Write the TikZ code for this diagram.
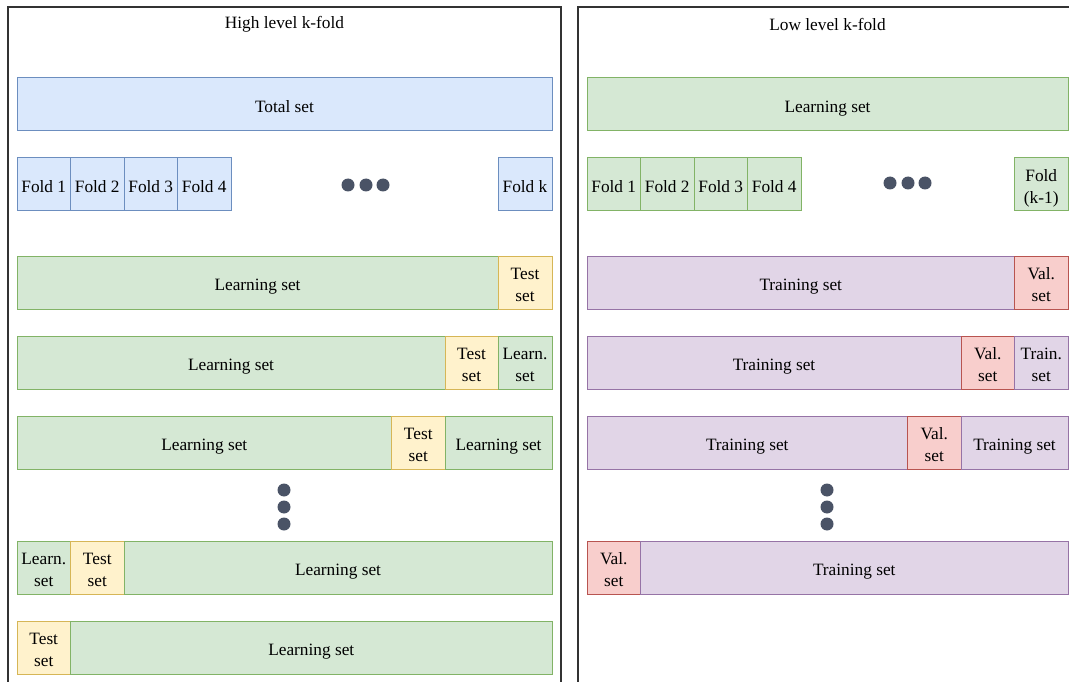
\documentclass[tikz,border=0pt]{standalone}
\usepackage{fontspec}
\setmainfont{Liberation Serif}
\definecolor{blueF}{HTML}{DAE8FC}\definecolor{blueD}{HTML}{6C8EBF}
\definecolor{greenF}{HTML}{D5E8D4}\definecolor{greenD}{HTML}{82B366}
\definecolor{yellowF}{HTML}{FFF2CC}\definecolor{yellowD}{HTML}{D6B656}
\definecolor{redF}{HTML}{F8CECC}\definecolor{redD}{HTML}{B85450}
\definecolor{purpleF}{HTML}{E1D5E7}\definecolor{purpleD}{HTML}{9673A6}
\definecolor{dotC}{HTML}{4A5366}
\definecolor{frameC}{HTML}{333333}
% cell text: centred lines, set slightly below the geometric centre
\newcommand\celltext[1]{\raisebox{-3.5pt}[\height][\depth]{\begin{tabular}{@{}c@{}}#1\end{tabular}}}
\tikzset{
  cell/.style={draw, line width=1pt, rectangle, inner sep=0pt, outer sep=0pt,
    minimum height=53pt, anchor=north west,
    font=\fontsize{17.3}{21.5}\selectfont},
  bluecell/.style={cell, fill=blueF, draw=blueD},
  greencell/.style={cell, fill=greenF, draw=greenD},
  yellowcell/.style={cell, fill=yellowF, draw=yellowD},
  redcell/.style={cell, fill=redF, draw=redD},
  purplecell/.style={cell, fill=purpleF, draw=purpleD},
  blob/.style={circle, fill=dotC, inner sep=0pt, minimum size=13pt},
  paneltitle/.style={font=\fontsize{17.3}{21}\selectfont},
  frame/.style={draw=frameC, line width=1.4pt}
}
\begin{document}
\begin{tikzpicture}[x=1pt, y=-1pt]
\useasboundingbox (0,0) rectangle (1069,682);
\begin{scope}
\clip (0,0) rectangle (1069,682);
% panel frames (open at the bottom / right edge)
\draw[frame] (8,700) -- (8,7) -- (561,7) -- (561,700);
\draw[frame] (578,700) -- (578,7) -- (1080,7);

% ---------------- high level k-fold ----------------
\node[paneltitle] (hTitle) at (284.5,24.5) {High level k-fold};
\node[bluecell, minimum width=535pt] (hTotal) at (17,78) {\celltext{Total set}};
\node[bluecell, minimum width=53.5pt] (hF1) at (17,158) {\celltext{Fold 1}};
\node[bluecell, minimum width=53.5pt] (hF2) at (70.5,158) {\celltext{Fold 2}};
\node[bluecell, minimum width=53.5pt] (hF3) at (124,158) {\celltext{Fold 3}};
\node[bluecell, minimum width=53.5pt] (hF4) at (177.5,158) {\celltext{Fold 4}};
\node[bluecell, minimum width=54pt] (hFk) at (498,158) {\celltext{Fold k}};
\node[blob] (hd1) at (348,185) {};
\node[blob] (hd2) at (366,185) {};
\node[blob] (hd3) at (383,185) {};

\node[greencell, minimum width=481pt] (h1L) at (17,256) {\celltext{Learning set}};
\node[yellowcell, minimum width=54pt] (h1T) at (498,256) {\celltext{Test\\set}};

\node[greencell, minimum width=428pt] (h2L) at (17,336) {\celltext{Learning set}};
\node[yellowcell, minimum width=53pt] (h2T) at (445,336) {\celltext{Test\\set}};
\node[greencell, minimum width=54pt] (h2R) at (498,336) {\celltext{Learn.\\set}};

\node[greencell, minimum width=374.5pt] (h3L) at (17,416) {\celltext{Learning set}};
\node[yellowcell, minimum width=53.5pt] (h3T) at (391.5,416) {\celltext{Test\\set}};
\node[greencell, minimum width=107pt] (h3R) at (445,416) {\celltext{Learning set}};

\node[blob] (hv1) at (284,490) {};
\node[blob] (hv2) at (284,507) {};
\node[blob] (hv3) at (284,524) {};

\node[greencell, minimum width=53.5pt] (h4L) at (17,541) {\celltext{Learn.\\set}};
\node[yellowcell, minimum width=53.5pt] (h4T) at (70.5,541) {\celltext{Test\\set}};
\node[greencell, minimum width=428pt] (h4R) at (124,541) {\celltext{Learning set}};

\node[yellowcell, minimum width=53.5pt] (h5T) at (17,621) {\celltext{Test\\set}};
\node[greencell, minimum width=481.5pt] (h5R) at (70.5,621) {\celltext{Learning set}};

% ---------------- low level k-fold ----------------
\node[paneltitle] (lTitle) at (827.5,24.5) {Low level k-fold};
\node[greencell, minimum width=481pt] (lTotal) at (587,78) {\celltext{Learning set}};
\node[greencell, minimum width=53.5pt] (lF1) at (587,158) {\celltext{Fold 1}};
\node[greencell, minimum width=53.5pt] (lF2) at (640.5,158) {\celltext{Fold 2}};
\node[greencell, minimum width=53.5pt] (lF3) at (694,158) {\celltext{Fold 3}};
\node[greencell, minimum width=53.5pt] (lF4) at (747.5,158) {\celltext{Fold 4}};
\node[greencell, minimum width=53.5pt] (lFk) at (1014.5,158) {\celltext{Fold\\(k-1)}};
\node[blob] (ld1) at (890,183) {};
\node[blob] (ld2) at (908,183) {};
\node[blob] (ld3) at (925,183) {};

\node[purplecell, minimum width=427.5pt] (l1T) at (587,256) {\celltext{Training set}};
\node[redcell, minimum width=53.5pt] (l1V) at (1014.5,256) {\celltext{Val.\\set}};

\node[purplecell, minimum width=374pt] (l2T) at (587,336) {\celltext{Training set}};
\node[redcell, minimum width=53.5pt] (l2V) at (961,336) {\celltext{Val.\\set}};
\node[purplecell, minimum width=53.5pt] (l2R) at (1014.5,336) {\celltext{Train.\\set}};

\node[purplecell, minimum width=320.5pt] (l3T) at (587,416) {\celltext{Training set}};
\node[redcell, minimum width=53.5pt] (l3V) at (907.5,416) {\celltext{Val.\\set}};
\node[purplecell, minimum width=107pt] (l3R) at (961,416) {\celltext{Training set}};

\node[blob] (lv1) at (827,490) {};
\node[blob] (lv2) at (827,507) {};
\node[blob] (lv3) at (827,524) {};

\node[redcell, minimum width=53.5pt] (l4V) at (587,541) {\celltext{Val.\\set}};
\node[purplecell, minimum width=427.5pt] (l4T) at (640.5,541) {\celltext{Training set}};
\end{scope}
\end{tikzpicture}
\end{document}
